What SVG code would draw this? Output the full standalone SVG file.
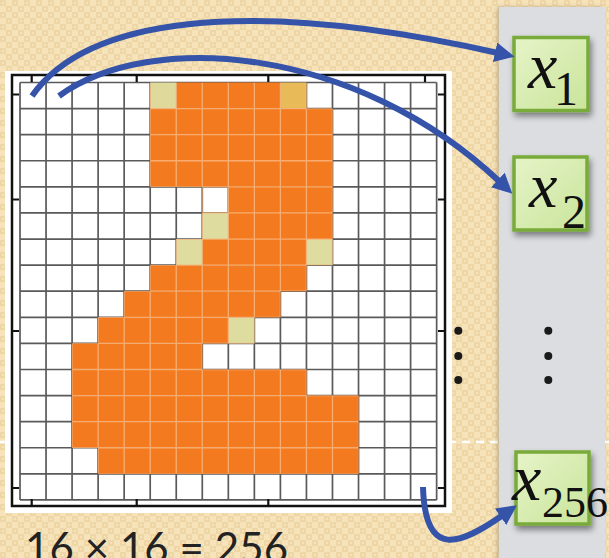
<svg xmlns="http://www.w3.org/2000/svg" width="609" height="558" viewBox="0 0 609 558">
  <defs>
    <pattern id="bgpat" x="0" y="0" width="12" height="12" patternUnits="userSpaceOnUse">
      <rect width="12" height="12" fill="#f6e3ba"/>
      <rect x="0" y="0" width="6" height="6" fill="#efd6a6"/>
      <rect x="6" y="6" width="6" height="6" fill="#efd6a6"/>
      <rect x="2" y="2" width="2" height="2" fill="#f6e3ba"/>
      <rect x="8" y="8" width="2" height="2" fill="#f6e3ba"/>
    </pattern>
    <linearGradient id="boxfill" x1="0" y1="0" x2="1" y2="1">
      <stop offset="0" stop-color="#e6f4c8"/>
      <stop offset="1" stop-color="#c9e49a"/>
    </linearGradient>
    <filter id="shadow" x="-20%" y="-20%" width="150%" height="150%">
      <feDropShadow dx="2" dy="4" stdDeviation="3" flood-color="#000" flood-opacity="0.45"/>
    </filter>
    <filter id="pshadow" x="-10%" y="-5%" width="120%" height="110%">
      <feDropShadow dx="-2" dy="0" stdDeviation="2" flood-color="#000" flood-opacity="0.2"/>
    </filter>
    <marker id="ah" viewBox="0 0 20 20" markerUnits="userSpaceOnUse" markerWidth="20" markerHeight="20" refX="3" refY="10" orient="auto">
      <path d="M0,0 L20,10 L0,20 z" fill="#3453a9"/>
    </marker>
    <clipPath id="orangeClip" clipPathUnits="userSpaceOnUse">
      <rect x="5" y="0" width="6" height="1"/>
      <rect x="5" y="1" width="7" height="3"/>
      <rect x="7" y="4" width="5" height="2"/>
      <rect x="6" y="6" width="6" height="1"/>
      <rect x="5" y="7" width="6" height="1"/>
      <rect x="4" y="8" width="6" height="1"/>
      <rect x="3" y="9" width="6" height="1"/>
      <rect x="2" y="10" width="5" height="1"/>
      <rect x="2" y="11" width="9" height="1"/>
      <rect x="2" y="12" width="11" height="2"/>
      <rect x="3" y="14" width="10" height="1"/>
    </clipPath>
    <style>
      .gridline { stroke: #5a5a5a; stroke-width: 1.7; fill: none; vector-effect: non-scaling-stroke; }
      .faint { stroke: #f8b67e; stroke-width: 1.3; fill: none; opacity: 0.85; vector-effect: non-scaling-stroke; }
      .org { fill: #f47a20; }
      .pale { fill: #dedc9e; }
      .frame { stroke: #111; stroke-width: 2.5; fill: none; }
      .tick { stroke: #111; stroke-width: 2.2; }
      .box { fill: url(#boxfill); stroke: #79ab3a; stroke-width: 3.5; filter: url(#shadow); }
      .var { font-family: "Liberation Serif", "Times New Roman", serif; fill: #111; }
      .conn { fill: none; stroke: #3453a9; stroke-width: 6; stroke-linecap: butt; marker-end: url(#ah); }
      .dot { fill: #1a1a1a; }
    </style>
  </defs>

  <!-- background -->
  <rect x="0" y="0" width="609" height="558" fill="url(#bgpat)"/>
  <line x1="0" y1="442" x2="609" y2="442" stroke="#ffffff" stroke-width="2.5" stroke-dasharray="8 6"/>

  <!-- right grey panel -->
  <rect id="panel" x="499" y="7" width="106" height="560" fill="#dcdde0" filter="url(#pshadow)"/>

  <!-- image grid -->
  <g id="image-grid">
    <rect x="5" y="71" width="447" height="442" fill="#ffffff"/>
    <g transform="translate(20,82.5) scale(26.04,26.09)">
      <path class="gridline" d="M0,0V16M1,0V16M2,0V16M3,0V16M4,0V16M5,0V16M6,0V16M7,0V16M8,0V16M9,0V16M10,0V16M11,0V16M12,0V16M13,0V16M14,0V16M15,0V16M16,0V16M0,0H16M0,1H16M0,2H16M0,3H16M0,4H16M0,5H16M0,6H16M0,7H16M0,8H16M0,9H16M0,10H16M0,11H16M0,12H16M0,13H16M0,14H16M0,15H16M0,16H16"/>
      <g class="org">
        <rect x="6" y="0" width="4" height="1"/>
        <rect x="5" y="1" width="7" height="3"/>
        <rect x="8" y="4" width="4" height="2"/>
        <rect x="7" y="6" width="4" height="1"/>
        <rect x="5" y="7" width="6" height="1"/>
        <rect x="4" y="8" width="6" height="1"/>
        <rect x="3" y="9" width="5" height="1"/>
        <rect x="2" y="10" width="5" height="1"/>
        <rect x="2" y="11" width="9" height="1"/>
        <rect x="2" y="12" width="11" height="2"/>
        <rect x="3" y="14" width="10" height="1"/>
      </g>
      <rect x="5" y="0" width="1" height="1" fill="#e0d99c"/>
      <rect x="10" y="0" width="1" height="1" fill="#e9ba58"/>
      <rect class="pale" x="7" y="5" width="1" height="1"/>
      <rect class="pale" x="6" y="6" width="1" height="1"/>
      <rect class="pale" x="11" y="6" width="1" height="1"/>
      <rect class="pale" x="8" y="9" width="1" height="1"/>
      <path class="faint" clip-path="url(#orangeClip)" d="M1,0V16M2,0V16M3,0V16M4,0V16M5,0V16M6,0V16M7,0V16M8,0V16M9,0V16M10,0V16M11,0V16M12,0V16M13,0V16M14,0V16M15,0V16M0,1H16M0,2H16M0,3H16M0,4H16M0,5H16M0,6H16M0,7H16M0,8H16M0,9H16M0,10H16M0,11H16M0,12H16M0,13H16M0,14H16M0,15H16"/>
    </g>
    <rect class="frame" x="12" y="75" width="433" height="431"/>
    <path class="tick" d="M31.7,75v7M136.7,75v7M268.3,75v7M425,75v7M31.7,506v-7M136.7,506v-7M268.3,506v-7M425,506v-7M12,94.5h7M12,199.5h7M12,331h7M12,488h7M445,94.5h-7M445,199.5h-7M445,331h-7M445,488h-7"/>
  </g>

  <!-- ellipsis dots -->
  <g id="dots-left">
    <circle class="dot" cx="458.3" cy="330.7" r="4"/>
    <circle class="dot" cx="458.3" cy="356" r="4"/>
    <circle class="dot" cx="458.3" cy="380" r="4"/>
  </g>
  <g id="dots-right">
    <circle class="dot" cx="548.3" cy="330.7" r="4"/>
    <circle class="dot" cx="548.3" cy="356" r="4"/>
    <circle class="dot" cx="548.3" cy="380" r="4"/>
  </g>

  <!-- nodes -->
  <g id="node-x1">
    <rect class="box" x="514" y="37.5" width="74" height="73"/>
    <text class="var"><tspan x="528" y="88" font-size="66" font-style="italic">x</tspan><tspan x="554" y="105" font-size="48">1</tspan></text>
  </g>
  <g id="node-x2">
    <rect class="box" x="514" y="157" width="73" height="73"/>
    <text class="var"><tspan x="529" y="207" font-size="64" font-style="italic">x</tspan><tspan x="562" y="228" font-size="48">2</tspan></text>
  </g>
  <g id="node-x256">
    <rect class="box" x="516" y="452" width="73" height="72"/>
    <text class="var"><tspan x="512" y="500" font-size="66" font-style="italic">x</tspan><tspan x="542" y="517" font-size="44">256</tspan></text>
  </g>

  <!-- connectors -->
  <g id="connectors">
    <path class="conn" d="M32,96 C85,20 240,-5 498,53"/>
    <path class="conn" d="M59,96 C150,30 355,45 500,182"/>
    <path class="conn" d="M423,487 C425,560 460,545 503,515"/>
  </g>

  <!-- caption -->
  <text x="25" y="563" font-family="Lato, 'Open Sans', sans-serif" font-size="42" fill="#222" textLength="263" lengthAdjust="spacing">16 × 16 = 256</text>
</svg>
